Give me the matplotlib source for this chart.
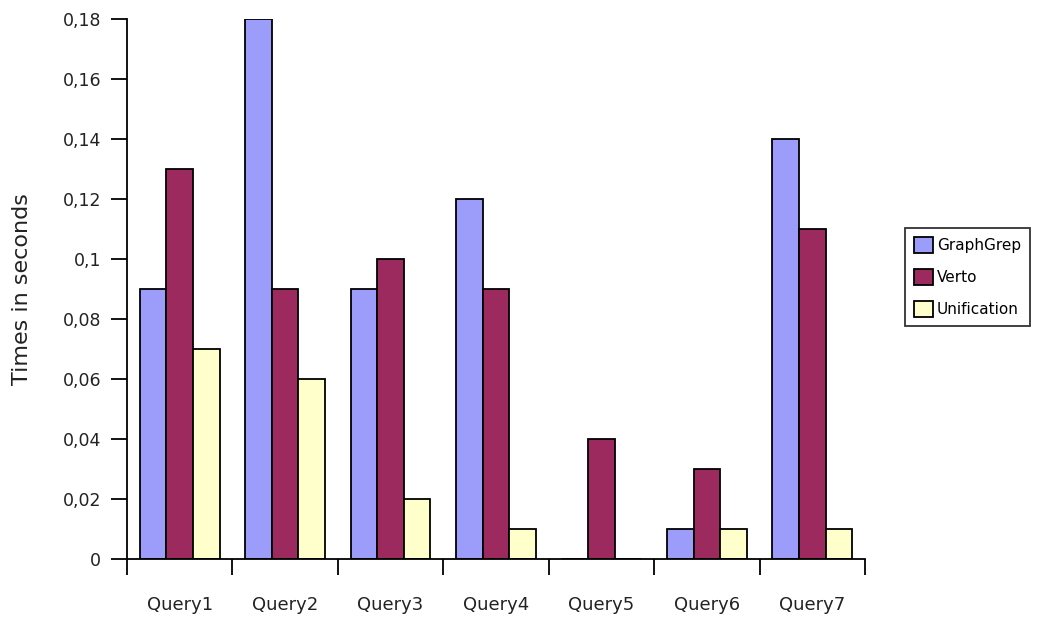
import matplotlib
matplotlib.use("Agg")
import matplotlib.pyplot as plt
import numpy as np

categories = ["Query1", "Query2", "Query3", "Query4", "Query5", "Query6", "Query7"]
series_names = ["GraphGrep", "Verto", "Unification"]
graphgrep = [0.09, 0.18, 0.09, 0.12, 0.0, 0.01, 0.14]
verto = [0.13, 0.09, 0.10, 0.09, 0.04, 0.03, 0.11]
unification = [0.07, 0.06, 0.02, 0.01, 0.0, 0.01, 0.01]
y_ticks = [0, 0.02, 0.04, 0.06, 0.08, 0.1, 0.12, 0.14, 0.16, 0.18]
y_tick_labels = ["0", "0,02", "0,04", "0,06", "0,08", "0,1", "0,12", "0,14", "0,16", "0,18"]

colors = ["#9C9CFA", "#9C2A5E", "#FFFFCC"]

fig = plt.figure(figsize=(10.43, 6.19), dpi=100)
ax = fig.add_axes([127 / 1043, 60 / 619, 738 / 1043, 540 / 619])

x = np.arange(len(categories))
width = 0.252
for i, (vals, name, col) in enumerate(zip([graphgrep, verto, unification], series_names, colors)):
    ax.bar(x + (i - 1) * width, vals, width, color=col, edgecolor="black",
           linewidth=1.3, label=name, zorder=2)

ax.set_xlim(-0.5, len(categories) - 0.5)
ax.set_ylim(0, 0.18)

ax.set_yticks(y_ticks)
ax.set_yticklabels(y_tick_labels, fontsize=12.5, color="#222222")
ax.tick_params(axis="y", length=11.5, width=1.3, pad=7, direction="out")

ax.set_xticks(x)
ax.set_xticklabels(categories, fontsize=13, color="#222222")
ax.tick_params(axis="x", which="major", length=0, pad=27)
ax.set_xticks(np.arange(-0.5, len(categories)), minor=True)
ax.tick_params(axis="x", which="minor", length=11.5, width=1.3, direction="out")

for s in ("top", "right"):
    ax.spines[s].set_visible(False)
for s in ("left", "bottom"):
    ax.spines[s].set_linewidth(1.3)

ax.set_ylabel("Times in seconds", fontsize=16, color="#222222", labelpad=22)

leg = fig.legend(loc="upper left", bbox_to_anchor=(905 / 1043, 1 - 228 / 619),
                 fontsize=11, frameon=True, fancybox=False, handlelength=1.2,
                 handleheight=1.2, handletextpad=0.3, borderpad=0.6,
                 labelspacing=1.05, borderaxespad=0)
leg.get_frame().set_edgecolor("black")
leg.get_frame().set_linewidth(1.3)

fig.savefig("out.png", dpi=100)
